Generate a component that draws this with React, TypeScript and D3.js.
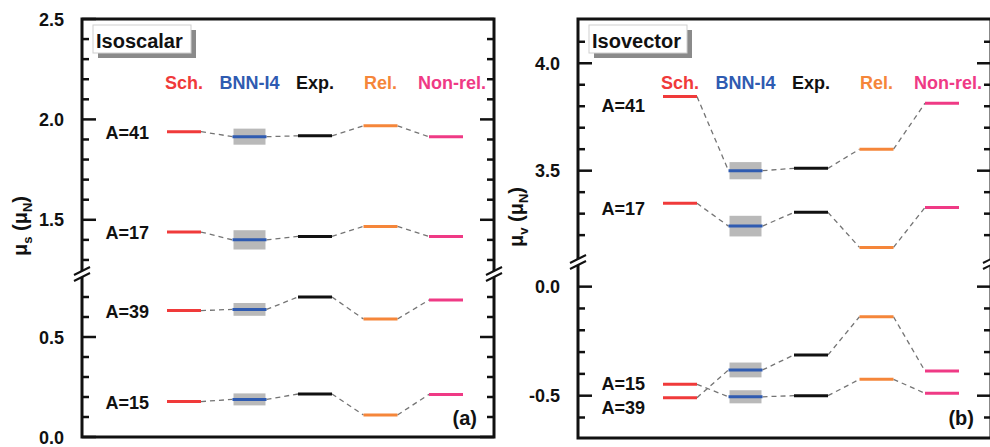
import * as d3 from 'd3';

// columns (methods) shown left to right in both panels
const methods = ['Sch.', 'BNN-I4', 'Exp.', 'Rel.', 'Non-rel.'];
const methodColors = ['#f03a3a', '#2f5bb1', '#111111', '#f5863a', '#ef3a85'];

// isoscalar moments mu_s (mu_N)
const isoA41 = [1.939, 1.914, 1.918, 1.968, 1.913];
const isoA17 = [1.439, 1.4, 1.417, 1.467, 1.417];
const isoA39 = [0.632, 0.638, 0.7, 0.59, 0.685];
const isoA15 = [0.177, 0.188, 0.215, 0.11, 0.213];
const isoBnnErr = [0.04, 0.048, 0.032, 0.03];

// isovector moments mu_v (mu_N)
const ivA41 = [3.845, 3.5, 3.511, 3.6, 3.814];
const ivA17 = [3.348, 3.242, 3.306, 3.143, 3.329];
const ivA15 = [-0.448, -0.505, -0.5, -0.425, -0.489];
const ivA39 = [-0.509, -0.382, -0.313, -0.138, -0.387];
const ivBnnErr = [0.04, 0.048, 0.03, 0.034];

const nucleiIso = ['A=41', 'A=17', 'A=39', 'A=15'];
const nucleiIv = ['A=41', 'A=17', 'A=15', 'A=39'];

const isoTickLabels = ['0.0', '0.5', '1.5', '2.0', '2.5'];
const ivTickLabels = ['-0.5', '0.0', '3.5', '4.0'];

const FONT = "'Liberation Sans', Arial, Helvetica, sans-serif";

type Series = { name: string; values: number[]; err: number; labelDy: number };

type PanelProps = {
  left: number;
  right: number;
  top: number;
  bottom: number;
  breakY: number;
  upper: [number, number];
  lower: [number, number];
  upperTicks: number[];
  lowerTicks: number[];
  tickLabels: string[];
  series: Series[];
  title: string;
  tag: string;
  sub: string;
  labelY: number;
};

function Panel(p: PanelProps) {
  const yUp = d3.scaleLinear().domain(p.upper).range([p.breakY, p.top]);
  const yLo = d3.scaleLinear().domain(p.lower).range([p.bottom, p.breakY]);
  const y = (v: number) => (v > p.lower[1] ? yUp(v) : yLo(v));

  const x = d3
    .scalePoint()
    .domain(methods)
    .range([p.left + 102, p.left + 364]);
  const hw = 17;

  const ticks = [...p.upperTicks, ...p.lowerTicks];
  const isMajor = (t: number) => Math.abs(t * 2 - Math.round(t * 2)) < 1e-6;

  return (
    <g fontFamily={FONT} fontWeight='bold'>
      {/* dashed connectors */}
      {p.series.map((s) =>
        s.values.slice(0, -1).map((v, i) => (
          <line
            key={s.name + i}
            x1={x(methods[i])! + hw}
            y1={y(v)}
            x2={x(methods[i + 1])! - hw}
            y2={y(s.values[i + 1])}
            stroke='#747474'
            strokeWidth={1.3}
            strokeDasharray='5,4'
          />
        ))
      )}
      {/* BNN uncertainty boxes */}
      {p.series.map((s) => (
        <rect
          key={'err' + s.name}
          x={x('BNN-I4')! - 16}
          width={32}
          y={y(s.values[1] + s.err)}
          height={y(s.values[1] - s.err) - y(s.values[1] + s.err)}
          fill='#b9b9b9'
        />
      ))}
      {/* levels */}
      {p.series.map((s) =>
        s.values.map((v, i) => (
          <line
            key={s.name + 'l' + i}
            x1={x(methods[i])! - hw}
            x2={x(methods[i])! + hw}
            y1={y(v)}
            y2={y(v)}
            stroke={methodColors[i]}
            strokeWidth={3}
          />
        ))
      )}
      {/* nucleus labels */}
      {p.series.map((s) => (
        <text
          key={'lab' + s.name}
          x={x('Sch.')! - hw - 18}
          y={y(s.values[0]) + s.labelDy}
          textAnchor='end'
          fontSize={18}
          fill='#111'
        >
          {s.name}
        </text>
      ))}
      {/* column headers */}
      {methods.map((m, i) => (
        <text
          key={'h' + m}
          x={x(m)! + (i === 4 ? 6 : 0)}
          y={89}
          textAnchor='middle'
          fontSize={18}
          fill={methodColors[i]}
        >
          {m}
        </text>
      ))}
      {/* frame */}
      <rect
        x={p.left}
        y={p.top}
        width={p.right - p.left}
        height={p.bottom - p.top}
        fill='none'
        stroke='#111'
        strokeWidth={3}
      />
      {/* ticks on both vertical axes */}
      {ticks.map((t) => {
        const ty = t > p.lower[1] ? yUp(t) : yLo(t);
        const len = isMajor(t) ? 14 : 7;
        return (
          <g key={'t' + t}>
            <line x1={p.left} x2={p.left + len} y1={ty} y2={ty} stroke='#111' strokeWidth={2.5} />
            <line x1={p.right} x2={p.right - len} y1={ty} y2={ty} stroke='#111' strokeWidth={2.5} />
          </g>
        );
      })}
      {p.tickLabels.map((l) => {
        const v = +l;
        const ty = v > p.lower[1] ? yUp(v) : yLo(v);
        return (
          <text key={'tl' + l} x={p.left - 18} y={ty + 6.5} textAnchor='end' fontSize={18} fill='#111'>
            {l}
          </text>
        );
      })}
      {/* axis break marks */}
      {[p.left, p.right].map((ax) => (
        <g key={'br' + ax}>
          <line x1={ax} x2={ax} y1={p.breakY - 3} y2={p.breakY + 3} stroke='#fff' strokeWidth={5} />
          <line x1={ax - 8} y1={p.breakY + 1} x2={ax + 8} y2={p.breakY - 7} stroke='#111' strokeWidth={2} />
          <line x1={ax - 8} y1={p.breakY + 7} x2={ax + 8} y2={p.breakY - 1} stroke='#111' strokeWidth={2} />
        </g>
      ))}
      {/* title box */}
      <rect x={p.left + 16} y={30} width={98} height={28} fill='#8a8a8a' />
      <rect x={p.left + 11} y={25} width={98} height={28} fill='#fff' stroke='#cfcfcf' strokeWidth={1} />
      <text x={p.left + 14} y={48} fontSize={20} fill='#111'>
        {p.title}
      </text>
      {/* panel tag */}
      <text x={p.right - 17} y={425} textAnchor='end' fontSize={20} fill='#111'>
        {p.tag}
      </text>
      {/* y label */}
      <text
        transform={`translate(${p.left - 55},${p.labelY}) rotate(-90)`}
        textAnchor='middle'
        fontSize={20}
        fill='#111'
      >
        μ
        <tspan fontSize={13} dy={5}>
          {p.sub}
        </tspan>
        <tspan dy={-5}> (μ</tspan>
        <tspan fontSize={13} dy={5}>
          N
        </tspan>
        <tspan dy={-5}>)</tspan>
      </text>
    </g>
  );
}

export default function App() {
  const isoSeries: Series[] = [
    { name: nucleiIso[0], values: isoA41, err: isoBnnErr[0], labelDy: 7 },
    { name: nucleiIso[1], values: isoA17, err: isoBnnErr[1], labelDy: 7 },
    { name: nucleiIso[2], values: isoA39, err: isoBnnErr[2], labelDy: 7 },
    { name: nucleiIso[3], values: isoA15, err: isoBnnErr[3], labelDy: 7 },
  ];
  const ivSeries: Series[] = [
    { name: nucleiIv[0], values: ivA41, err: ivBnnErr[0], labelDy: 15 },
    { name: nucleiIv[1], values: ivA17, err: ivBnnErr[1], labelDy: 12 },
    { name: nucleiIv[2], values: ivA15, err: ivBnnErr[2], labelDy: 6 },
    { name: nucleiIv[3], values: ivA39, err: ivBnnErr[3], labelDy: 16 },
  ];

  return (
    <svg
      width={990}
      height={447}
      style={{ position: 'absolute', left: 0, top: 0, background: '#fff' }}
    >
      <Panel
        left={82}
        right={494}
        top={19}
        bottom={437}
        breakY={274}
        upper={[1.23, 2.5]}
        lower={[0, 0.815]}
        upperTicks={d3.range(13, 26).map((d) => d / 10)}
        lowerTicks={d3.range(0, 8).map((d) => d / 10)}
        tickLabels={isoTickLabels}
        series={isoSeries}
        title='Isoscalar'
        tag='(a)'
        sub='s'
        labelY={226}
      />
      <Panel
        left={578}
        right={991}
        top={19}
        bottom={438}
        breakY={262}
        upper={[3.075, 4.206]}
        lower={[-0.694, 0.113]}
        upperTicks={d3.range(32, 42).map((d) => d / 10)}
        lowerTicks={d3.range(-6, 1).map((d) => d / 10)}
        tickLabels={ivTickLabels}
        series={ivSeries}
        title='Isovector'
        tag='(b)'
        sub='v'
        labelY={217}
      />
    </svg>
  );
}
